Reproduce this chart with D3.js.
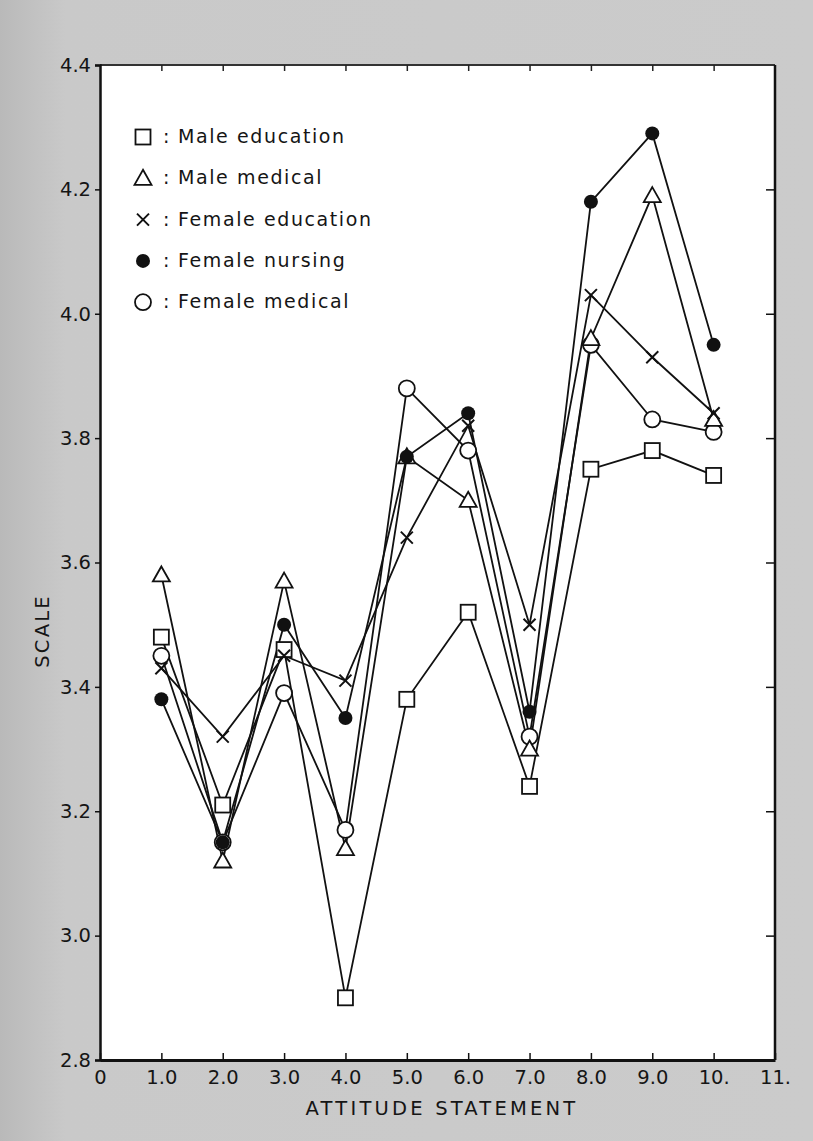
<!DOCTYPE html>
<html>
<head>
<meta charset="utf-8">
<script src="https://cdn.jsdelivr.net/npm/d3@7"></script>
<style>
  html, body { margin: 0; padding: 0; background: #c6c6c6; }
  svg { display: block; }
  text { font-family: "DejaVu Sans", "Liberation Sans", sans-serif; fill: #151515; }
</style>
</head>
<body>
<svg id="chart" width="813" height="1141"></svg>
<script>
// ---------------- DATA ----------------
const statements = [1, 2, 3, 4, 5, 6, 7, 8, 9, 10];
const maleEducation   = [3.48, 3.21, 3.46, 2.90, 3.38, 3.52, 3.24, 3.75, 3.78, 3.74];
const maleMedical     = [3.58, 3.12, 3.57, 3.14, 3.77, 3.70, 3.30, 3.96, 4.19, 3.83];
const femaleEducation = [3.43, 3.32, 3.45, 3.41, 3.64, 3.82, 3.50, 4.03, 3.93, 3.84];
const femaleNursing   = [3.38, 3.15, 3.50, 3.35, 3.77, 3.84, 3.36, 4.18, 4.29, 3.95];
const femaleMedical   = [3.45, 3.15, 3.39, 3.17, 3.88, 3.78, 3.32, 3.95, 3.83, 3.81];
const seriesNames   = ["Male education", "Male medical", "Female education", "Female nursing", "Female medical"];
const seriesSymbols = ["square", "triangle", "cross", "dot", "circle"];
const xTickValues = [0, 1, 2, 3, 4, 5, 6, 7, 8, 9, 10, 11];
const xTickLabels = ["0", "1.0", "2.0", "3.0", "4.0", "5.0", "6.0", "7.0", "8.0", "9.0", "10.", "11."];
const yTickValues = [2.8, 3.0, 3.2, 3.4, 3.6, 3.8, 4.0, 4.2, 4.4];
const yTickLabels = ["2.8", "3.0", "3.2", "3.4", "3.6", "3.8", "4.0", "4.2", "4.4"];
const xTitle = "ATTITUDE STATEMENT";
const yTitle = "SCALE";

// ---------------- CHART ----------------
(function () {
const seriesValues = [maleEducation, maleMedical, femaleEducation, femaleNursing, femaleMedical];
const series = seriesNames.map((name, i) => ({
  name, symbol: seriesSymbols[i],
  points: statements.map((s, j) => ({ x: s, y: seriesValues[i][j] }))
}));

const svg = d3.select("#chart");
const pL = 100, pR = 775, pT = 65, pB = 1060;
const x = d3.scaleLinear().domain([0, 11]).range([pL, pR]);
const y = d3.scaleLinear().domain([2.8, 4.4]).range([pB, pT]);

const defs = svg.append("defs");
const grad = defs.append("linearGradient").attr("id", "bg").attr("x1", 0).attr("x2", 1);
grad.append("stop").attr("offset", "0").attr("stop-color", "#b9b9b9");
grad.append("stop").attr("offset", "0.08").attr("stop-color", "#c9c9c9");
grad.append("stop").attr("offset", "1").attr("stop-color", "#cbcbcb");
svg.append("rect").attr("width", 813).attr("height", 1141).attr("fill", "url(#bg)");

svg.append("rect").attr("x", pL).attr("y", pT)
  .attr("width", pR - pL).attr("height", pB - pT).attr("fill", "#ffffff");

svg.append("line").attr("x1", pL).attr("x2", pR).attr("y1", pT).attr("y2", pT)
  .attr("stroke", "#333").attr("stroke-width", 2);
svg.append("line").attr("x1", pR).attr("x2", pR).attr("y1", pT).attr("y2", pB)
  .attr("stroke", "#111").attr("stroke-width", 2.5);

const yAxis = d3.axisLeft(y).tickValues(yTickValues)
  .tickFormat((d, i) => yTickLabels[i]).tickSize(5).tickPadding(4);
const gy = svg.append("g").attr("transform", `translate(${pL},0)`).call(yAxis);
gy.select(".domain").attr("stroke", "#111").attr("stroke-width", 2.5);
gy.selectAll(".tick line").attr("stroke", "#111").attr("stroke-width", 1.5);
gy.selectAll(".tick text").attr("font-size", 19.5).attr("fill", "#151515")
  .style("font-family", '"DejaVu Sans", sans-serif');

const yAxisR = d3.axisLeft(y).tickValues(yTickValues.slice(1, -1)).tickFormat("").tickSize(9);
const gyr = svg.append("g").attr("transform", `translate(${pR},0)`).call(yAxisR);
gyr.select(".domain").remove();
gyr.selectAll(".tick line").attr("stroke", "#111").attr("stroke-width", 1.5);

const xAxis = d3.axisBottom(x).tickValues(xTickValues)
  .tickFormat((d, i) => xTickLabels[i]).tickSizeInner(-7).tickSizeOuter(0).tickPadding(10);
const gx = svg.append("g").attr("transform", `translate(0,${pB})`).call(xAxis);
gx.select(".domain").attr("stroke", "#111").attr("stroke-width", 3);
gx.selectAll(".tick line").attr("stroke", "#111").attr("stroke-width", 1.5);
gx.selectAll(".tick text").attr("font-size", 19.5).attr("fill", "#151515")
  .style("font-family", '"DejaVu Sans", sans-serif');

const xAxisT = d3.axisTop(x).tickValues(xTickValues.slice(1, -1)).tickFormat("").tickSize(-6);
const gxt = svg.append("g").attr("transform", `translate(0,${pT})`).call(xAxisT);
gxt.select(".domain").remove();
gxt.selectAll(".tick line").attr("stroke", "#222").attr("stroke-width", 1.5);

svg.append("text").attr("x", 442).attr("y", 1115).attr("text-anchor", "middle")
  .attr("font-size", 19.5).attr("letter-spacing", 3.2).text(xTitle);
svg.append("text").attr("transform", "translate(49,631) rotate(-90)").attr("text-anchor", "middle")
  .attr("font-size", 19.5).attr("letter-spacing", 2.2).text(yTitle);

const line = d3.line().x(d => x(d.x)).y(d => y(d.y));
svg.append("g").selectAll("path").data(series).join("path")
  .attr("d", d => line(d.points))
  .attr("fill", "none").attr("stroke", "#111").attr("stroke-width", 1.8);

function drawMarker(g, sym) {
  const sw = 1.8;
  if (sym === "square") {
    g.append("rect").attr("x", -7.5).attr("y", -7.5).attr("width", 15).attr("height", 15)
      .attr("fill", "#fff").attr("stroke", "#111").attr("stroke-width", sw);
  } else if (sym === "triangle") {
    g.append("path").attr("d", "M0,-8.5 L8.5,6.5 L-8.5,6.5 Z")
      .attr("fill", "#fff").attr("stroke", "#111").attr("stroke-width", sw);
  } else if (sym === "cross") {
    g.append("path").attr("d", "M-6,-6 L6,6 M-6,6 L6,-6")
      .attr("fill", "none").attr("stroke", "#111").attr("stroke-width", 2);
  } else if (sym === "dot") {
    g.append("circle").attr("r", 7).attr("fill", "#111");
  } else if (sym === "circle") {
    g.append("circle").attr("r", 8).attr("fill", "#fff").attr("stroke", "#111").attr("stroke-width", sw);
  }
}

const markerOrder = [0, 4, 1, 2, 3];
markerOrder.forEach(i => {
  const s = series[i];
  const gs = svg.append("g");
  s.points.forEach(p => {
    const g = gs.append("g").attr("transform", `translate(${x(p.x)},${y(p.y)})`);
    drawMarker(g, s.symbol);
  });
});

const legend = svg.append("g");
series.forEach((s, i) => {
  const ly = 137 + i * 41.3;
  const g = legend.append("g").attr("transform", `translate(143,${ly})`);
  drawMarker(g, s.symbol);
  legend.append("text").attr("x", 163).attr("y", ly + 6).attr("font-size", 19).text(":");
  legend.append("text").attr("x", 178).attr("y", ly + 6).attr("font-size", 19)
    .attr("letter-spacing", 1.6).text(s.name);
});
})();
</script>
</body>
</html>
